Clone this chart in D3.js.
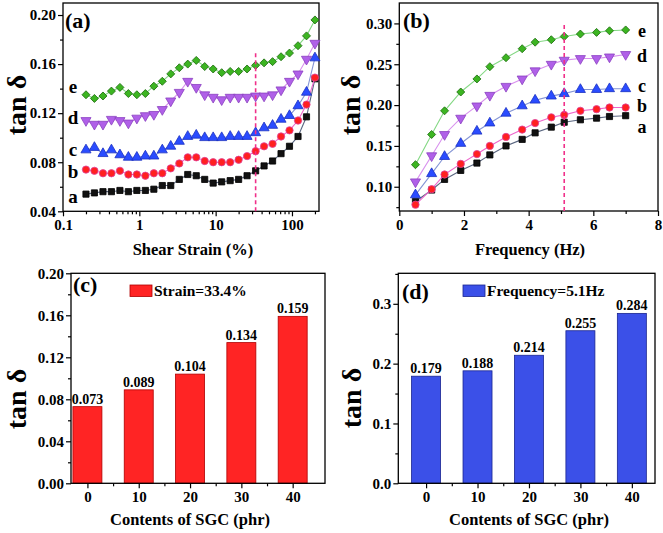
<!DOCTYPE html>
<html>
<head>
<meta charset="utf-8">
<script src="https://cdnjs.cloudflare.com/ajax/libs/d3/7.8.5/d3.min.js"></script>
<style>
body { margin: 0; background: #fff; }
svg text { font-family: "Liberation Serif", "Times New Roman", serif; font-weight: bold; fill: #000; }
.axis path { stroke: none; }
.axis line { stroke: #000; stroke-width: 1.2; }
.axis text { font-size: 15px; }
</style>
</head>
<body>
<svg width="663" height="533"></svg>
<script>
// ---- data ----
// (a) strain sweep
const strain = [0.2, 0.258, 0.334, 0.431, 0.557, 0.719, 0.928, 1.2, 1.55, 2.0, 2.58, 3.34, 4.31, 5.57,
  7.19, 9.28, 12.0, 15.5, 20.0, 25.8, 33.4, 43.1, 55.7, 71.9, 92.8, 120, 155, 200];
const strainA = [0.054,0.055,0.056,0.056,0.057,0.056,0.057,0.057,0.058,0.061,0.061,0.066,0.070,0.069,
  0.066,0.063,0.064,0.065,0.066,0.069,0.073,0.077,0.081,0.087,0.093,0.101,0.117,0.148];
const strainB = [0.074,0.073,0.071,0.071,0.073,0.070,0.070,0.069,0.071,0.071,0.075,0.079,0.084,0.084,
  0.081,0.080,0.080,0.080,0.082,0.085,0.089,0.093,0.095,0.101,0.106,0.114,0.127,0.149];
const strainC = [0.090,0.092,0.087,0.090,0.086,0.084,0.084,0.085,0.085,0.090,0.093,0.097,0.101,0.102,
  0.100,0.100,0.100,0.101,0.101,0.101,0.104,0.108,0.110,0.115,0.118,0.126,0.137,0.165];
const strainD = [0.114,0.111,0.111,0.115,0.114,0.112,0.116,0.118,0.119,0.123,0.130,0.137,0.146,0.141,
  0.135,0.133,0.131,0.133,0.133,0.133,0.134,0.134,0.135,0.139,0.146,0.152,0.164,0.177];
const strainE = [0.135,0.132,0.134,0.138,0.141,0.136,0.135,0.136,0.142,0.146,0.152,0.157,0.160,0.163,
  0.158,0.156,0.153,0.154,0.154,0.156,0.159,0.161,0.162,0.166,0.169,0.175,0.183,0.196];

// (b) frequency sweep
const freq = [0.5, 1.0, 1.4, 1.9, 2.4, 2.8, 3.3, 3.8, 4.2, 4.7, 5.1, 5.6, 6.1, 6.5, 7.0];
const freqA = [0.082,0.096,0.109,0.120,0.129,0.139,0.150,0.158,0.166,0.173,0.179,0.182,0.184,0.186,0.187];
const freqB = [0.078,0.097,0.115,0.128,0.140,0.150,0.161,0.170,0.178,0.185,0.188,0.193,0.195,0.197,0.197];
const freqC = [0.090,0.116,0.137,0.153,0.168,0.178,0.190,0.199,0.206,0.211,0.214,0.219,0.219,0.220,0.220];
const freqD = [0.106,0.138,0.164,0.184,0.199,0.212,0.223,0.232,0.242,0.250,0.255,0.257,0.257,0.259,0.262];
const freqE = [0.127,0.164,0.193,0.216,0.232,0.247,0.258,0.269,0.277,0.280,0.284,0.287,0.289,0.291,0.292];

// (c), (d) bars
const sgc = [0, 10, 20, 30, 40];
const tanStrain = [0.073, 0.089, 0.104, 0.134, 0.159];
const tanFreq = [0.179, 0.188, 0.214, 0.255, 0.284];

const seriesNames = ["a", "b", "c", "d", "e"];

// ---- styles ----
const lineCol = ["#5a6680", "#ee66cc", "#8494d4", "#d890ee", "#84d884"];
const fillCol = ["#111111", "#ff2020", "#2a4cff", "#b060e8", "#3cb521"];
const edgeCol = ["#000000", "#e0409a", "#1a30c0", "#8a40c0", "#1f6e10"];
const symType = [d3.symbolSquare, d3.symbolCircle, d3.symbolTriangle, d3.symbolTriangle, d3.symbolSquare];
const symRot = [0, 0, 0, 180, 45];
const symSize = [38, 42, 44, 44, 32];

const svg = d3.select("svg");

function drawAxes(xs, ys, o) {
  const g = svg.append("g");
  const [x0, x1] = xs.range();
  const [yb, yt] = ys.range();

  g.append("g").attr("class", "axis").attr("transform", `translate(${x0},0)`)
    .call(d3.axisLeft(ys).tickValues(o.yMinor).tickSize(3).tickFormat(""));
  g.append("g").attr("class", "axis").attr("transform", `translate(${x0},0)`)
    .call(d3.axisLeft(ys).tickValues(o.yMajor).tickSize(5).tickPadding(2).tickFormat(o.yFmt));
  g.append("g").attr("class", "axis").attr("transform", `translate(0,${yb})`)
    .call(d3.axisBottom(xs).tickValues(o.xMinor).tickSize(3).tickFormat(""));
  g.append("g").attr("class", "axis").attr("transform", `translate(0,${yb})`)
    .call(d3.axisBottom(xs).tickValues(o.xMajor).tickSize(5).tickPadding(3).tickFormat(o.xFmt));

  g.append("rect")
    .attr("x", x0).attr("y", yt)
    .attr("width", x1 - x0).attr("height", yb - yt)
    .attr("fill", "none").attr("stroke", "#000").attr("stroke-width", 1.3);

  g.append("text").attr("x", o.xTitle[0]).attr("y", o.xTitle[1])
    .attr("text-anchor", "middle").style("font-size", "16.5px").text(o.xLabel);
  g.append("text")
    .attr("transform", `translate(${o.yTitle[0]},${o.yTitle[1]}) rotate(-90)`)
    .attr("text-anchor", "middle").attr("dy", "0.35em")
    .style("font-size", "28px").text("tan δ");
  g.append("text").attr("x", o.tag[0]).attr("y", o.tag[1])
    .style("font-size", "22px").text(o.tagText);
  return g;
}

function drawSeries(xs, ys, xv, ysets) {
  ysets.forEach((vals, i) => {
    const pts = xv.map((x, j) => [x, vals[j]]);
    svg.append("path")
      .datum(pts)
      .attr("fill", "none")
      .attr("stroke", lineCol[i])
      .attr("stroke-width", 1.1)
      .attr("d", d3.line().x(d => xs(d[0])).y(d => ys(d[1])));
    svg.append("g").selectAll("path")
      .data(pts)
      .enter()
      .append("path")
      .attr("d", d3.symbol().type(symType[i]).size(symSize[i]))
      .attr("transform", d => `translate(${xs(d[0])},${ys(d[1])}) rotate(${symRot[i]})`)
      .attr("fill", fillCol[i])
      .attr("stroke", edgeCol[i])
      .attr("stroke-width", 0.8);
  });
}

function dashLine(xs, ys, xv, yFrom, yTo) {
  svg.append("line")
    .attr("x1", xs(xv)).attr("x2", xs(xv))
    .attr("y1", ys(yFrom)).attr("y2", ys(yTo))
    .attr("stroke", "#f0308a").attr("stroke-width", 1.6)
    .attr("stroke-dasharray", "4,3");
}

// ---- (a) ----
const xA = d3.scaleLog().domain([0.1, 226]).range([63, 319]);
const yA = d3.scaleLinear().domain([0.04, 0.2098]).range([211.3, 3]);
const logTicks = xA.ticks();
drawAxes(xA, yA, {
  xMajor: [0.1, 1, 10, 100],
  xMinor: logTicks.filter(t => Math.abs(Math.log10(t) % 1) > 1e-6),
  xFmt: d => d,
  yMajor: [0.04, 0.08, 0.12, 0.16, 0.20],
  yMinor: [0.06, 0.10, 0.14, 0.18],
  yFmt: d3.format(".2f"),
  xLabel: "Shear Strain (%)", xTitle: [193, 255],
  yTitle: [16, 105],
  tag: [65, 28], tagText: "(a)"
});
drawSeries(xA, yA, strain, [strainA, strainB, strainC, strainD, strainE]);
dashLine(xA, yA, 33.4, 0.04, 0.171);
const labA = [0.052, 0.072, 0.090, 0.116, 0.141];
seriesNames.forEach((s, i) => {
  svg.append("text").attr("x", 73).attr("y", yA(labA[i]) + 6)
    .attr("text-anchor", "middle").style("font-size", "19px").text(s);
});

// ---- (b) ----
const xB = d3.scaleLinear().domain([0, 8]).range([399.3, 658]);
const yB = d3.scaleLinear().domain([0.0703, 0.325]).range([211, 3]);
drawAxes(xB, yB, {
  xMajor: [0, 2, 4, 6, 8],
  xMinor: [1, 3, 5, 7],
  xFmt: d3.format("d"),
  yMajor: [0.10, 0.15, 0.20, 0.25, 0.30],
  yMinor: [0.075, 0.125, 0.175, 0.225, 0.275],
  yFmt: d3.format(".2f"),
  xLabel: "Frequency (Hz)", xTitle: [530, 255],
  yTitle: [350, 105],
  tag: [403, 28], tagText: "(b)"
});
drawSeries(xB, yB, freq, [freqA, freqB, freqC, freqD, freqE]);
dashLine(xB, yB, 5.1, 0.0703, 0.30);
const labB = [0.1730, 0.1990, 0.2230, 0.260, 0.291];
seriesNames.forEach((s, i) => {
  svg.append("text").attr("x", 642).attr("y", yB(labB[i]) + 6)
    .attr("text-anchor", "middle").style("font-size", "18px").text(s);
});

// ---- bar panels ----
function drawBars(xs, ys, vals, fill, edge, legendText, legendX) {
  const bw = 29;
  svg.append("g").selectAll("rect")
    .data(vals)
    .enter()
    .append("rect")
    .attr("x", (d, i) => xs(sgc[i]) - bw / 2)
    .attr("y", d => ys(d))
    .attr("width", bw)
    .attr("height", d => ys(0) - ys(d))
    .attr("fill", fill)
    .attr("stroke", edge)
    .attr("stroke-width", 0.8);
  svg.append("g").selectAll("text")
    .data(vals)
    .enter()
    .append("text")
    .attr("x", (d, i) => xs(sgc[i]))
    .attr("y", d => ys(d) - 3)
    .attr("text-anchor", "middle")
    .style("font-size", "14px")
    .text(d => d3.format(".3f")(d));
  svg.append("rect")
    .attr("x", legendX).attr("y", 285)
    .attr("width", 22).attr("height", 11.5)
    .attr("fill", fill).attr("stroke", edge).attr("stroke-width", 0.8);
  svg.append("text").attr("x", legendX + 24).attr("y", 296)
    .style("font-size", "15.5px").text(legendText);
}

// ---- (c) ----
const xC = d3.scaleLinear().domain([-3.2, 46.3]).range([71, 325]);
const yC = d3.scaleLinear().domain([0, 0.20]).range([483.3, 273.3]);
drawBars(xC, yC, tanStrain, "#ff2424", "#b00000", "Strain=33.4%", 130);
drawAxes(xC, yC, {
  xMajor: sgc,
  xMinor: [5, 15, 25, 35],
  xFmt: d3.format("d"),
  yMajor: [0, 0.04, 0.08, 0.12, 0.16, 0.20],
  yMinor: [0.02, 0.06, 0.10, 0.14, 0.18],
  yFmt: d3.format(".2f"),
  xLabel: "Contents of SGC (phr)", xTitle: [190, 525],
  yTitle: [16, 399],
  tag: [73, 292], tagText: "(c)"
});

// ---- (d) ----
const xD = d3.scaleLinear().domain([-5.4, 44.5]).range([398.3, 655]);
const yD = d3.scaleLinear().domain([0, 0.351]).range([483.3, 273.3]);
drawBars(xD, yD, tanFreq, "#3b50e8", "#1a2590", "Frequency=5.1Hz", 463);
drawAxes(xD, yD, {
  xMajor: sgc,
  xMinor: [5, 15, 25, 35],
  xFmt: d3.format("d"),
  yMajor: [0, 0.1, 0.2, 0.3],
  yMinor: [0.05, 0.15, 0.25, 0.35],
  yFmt: d3.format(".1f"),
  xLabel: "Contents of SGC (phr)", xTitle: [529, 525],
  yTitle: [351, 398],
  tag: [402, 299], tagText: "(d)"
});
</script>
</body>
</html>
